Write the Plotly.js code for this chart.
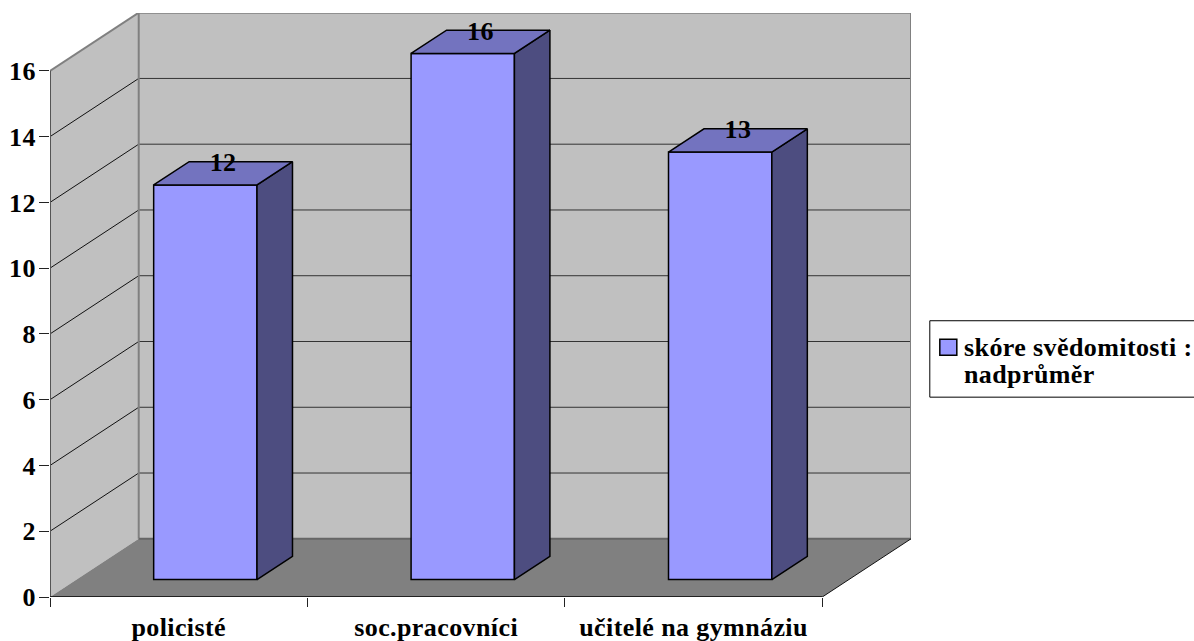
<!DOCTYPE html>
<html>
<head>
<meta charset="utf-8">
<script src="https://cdn.plot.ly/plotly-3.0.1.min.js"></script>
<style>
html,body{margin:0;padding:0;background:#fff;overflow:hidden}
#chart text{letter-spacing:0.4px}
</style>
</head>
<body>
<div id="chart" style="width:1194px;height:641px"></div>
<script>
// Survey scores per profession
const categories = ['policisté', 'soc.pracovníci', 'učitelé na gymnáziu'];
const scores = [12, 16, 13];
const seriesLines = ['skóre svědomitosti :', 'nadprůměr'];
const yTicks = [0, 2, 4, 6, 8, 10, 12, 14, 16];

// Colours of the box-style rendering
const faceColor = '#9999ff', sideColor = '#4d4d80', topColor = '#7373bf';
const wallColor = '#c0c0c0', floorColor = '#808080', wallEdge = '#808080';
const textFont = {family: '"Liberation Serif", serif', size: 26, color: '#000', weight: 700};

// Oblique projection: how far the back wall sits from the front plane, in axis units
const W = 1194, H = 641;
const margin = {l: 50, r: 283.3, t: 12.5, b: 44};
const depthX = 0.3447, depthY = 1.77;
const yMax = 17.76;
const barWidth = 0.4014;
const barFrontShare = 0.30, barDepthShare = 0.40;
const offX = depthX * barFrontShare, offY = depthY * barFrontShare;
const dX = depthX * barDepthShare, dY = depthY * barDepthShare;

const centers = categories.map((_, i) => i + 0.5 + offX);

// Side and top faces of each bar, separated by gaps
const sideX = [], sideY = [], topX = [], topY = [];
scores.forEach((v, i) => {
  const r = centers[i] + barWidth / 2, l = centers[i] - barWidth / 2;
  const hi = offY + v;
  sideX.push(r, r + dX, r + dX, r, r, null);
  sideY.push(offY, offY + dY, hi + dY, hi, offY, null);
  topX.push(l, r, r + dX, l + dX, l, null);
  topY.push(hi, hi, hi + dY, hi + dY, hi, null);
});

const edge = {color: '#000', width: 1.5};
const traces = [
  {type: 'bar', x: centers, y: scores, base: offY, width: barWidth,
   marker: {color: faceColor, line: edge}, showlegend: false, hoverinfo: 'skip'},
  {type: 'scatter', mode: 'lines', x: sideX, y: sideY, fill: 'toself', fillcolor: sideColor,
   line: edge, showlegend: false, hoverinfo: 'skip'},
  {type: 'scatter', mode: 'lines', x: topX, y: topY, fill: 'toself', fillcolor: topColor,
   line: edge, showlegend: false, hoverinfo: 'skip'},
  {type: 'scatter', mode: 'text',
   x: centers.map(c => c + dX / 2),
   y: scores.map(v => offY + v + dY - 0.09),
   text: scores.map(String), textposition: 'middle center',
   textfont: textFont,
   cliponaxis: false, showlegend: false, hoverinfo: 'skip'}
];

// Walls, floor and gridlines, all expressed in axis units
const shapes = [
  {type: 'path', layer: 'below', xref: 'x', yref: 'y', fillcolor: wallColor, line: {width: 0},
   path: `M${depthX},${depthY} L${3 + depthX},${depthY} L${3 + depthX},${yMax} L${depthX},${yMax} Z`},
  {type: 'path', layer: 'below', xref: 'x', yref: 'y', fillcolor: wallColor, line: {width: 0},
   path: `M0,0 L${depthX},${depthY} L${depthX},${16 + depthY} L0,16 Z`},
  {type: 'path', layer: 'below', xref: 'x', yref: 'y', fillcolor: floorColor, line: {width: 0},
   path: `M0,0 L3,0 L${3 + depthX},${depthY} L${depthX},${depthY} Z`}
];
const seg = (x0, y0, x1, y1, color, width) => ({
  type: 'line', layer: 'below', xref: 'x', yref: 'y', x0, y0, x1, y1, line: {color, width}
});
yTicks.slice(1, -1).forEach(v => {
  shapes.push(seg(0, v, depthX, v + depthY, '#111', 1));
  shapes.push(seg(depthX, v + depthY, 3 + depthX, v + depthY, '#333', 1));
});
shapes.push(seg(depthX, depthY, depthX, 16 + depthY, wallEdge, 2));
shapes.push(seg(3 + depthX, depthY, 3 + depthX, 16 + depthY, wallEdge, 2));
shapes.push(seg(depthX, 16 + depthY, 3 + depthX, 16 + depthY, wallEdge, 2));
shapes.push(seg(0, 16, depthX, 16 + depthY, wallEdge, 2));
shapes.push(seg(depthX, depthY, 3 + depthX, depthY, '#666', 2));
shapes.push(seg(3, 0, 3 + depthX, depthY, '#111', 1));
shapes.push(seg(0, 0, 0, 16, '#555', 2));
shapes.push(seg(0, 0, 3, 0, '#222', 2));

// Series key on the right: framed box with a swatch and two lines of text
const plotW = W - margin.l - margin.r, plotH = H - margin.t - margin.b;
const px = x => (x - margin.l) / plotW;
const py = y => 1 - (y - margin.t) / plotH;
shapes.push({type: 'rect', layer: 'above', xref: 'paper', yref: 'paper',
  x0: px(929.5), x1: px(1200), y0: py(397), y1: py(320.5),
  fillcolor: '#fff', line: {color: '#000', width: 1}});
shapes.push({type: 'rect', layer: 'above', xref: 'paper', yref: 'paper',
  x0: px(939.5), x1: px(956.5), y0: py(355), y1: py(339),
  fillcolor: faceColor, line: {color: '#000', width: 1.5}});

const annotations = seriesLines.map((t, i) => ({
  text: t, xref: 'paper', yref: 'paper', x: px(963), y: py(347.5 + i * 27),
  xanchor: 'left', yanchor: 'middle', align: 'left', showarrow: false, font: textFont, borderpad: 0
}));

const layout = {
  width: W, height: H,
  margin: Object.assign({pad: 0, autoexpand: false}, margin),
  paper_bgcolor: '#fff', plot_bgcolor: 'rgba(0,0,0,0)',
  showlegend: false, hovermode: false, bargap: 0,
  shapes, annotations,
  xaxis: {
    range: [0, 3 + depthX], showgrid: false, zeroline: false, showline: false,
    tickmode: 'array', tickvals: categories.map((_, i) => i + 0.5), ticktext: categories,
    ticks: '', ticklabelstandoff: 12, tickangle: 0,
    tickfont: textFont,
    minor: {tick0: 0, dtick: 1, ticks: 'outside', ticklen: 9, tickwidth: 1, tickcolor: '#222', showgrid: false}
  },
  yaxis: {
    range: [0, yMax], showgrid: false, zeroline: false, showline: false,
    tickmode: 'array', tickvals: yTicks, ticktext: yTicks.map(String),
    ticks: 'outside', ticklen: 10, tickwidth: 1, tickcolor: '#222',
    ticklabelstandoff: -2,
    tickfont: textFont
  }
};

Plotly.newPlot('chart', traces, layout, {displayModeBar: false, staticPlot: true});
</script>
</body>
</html>
